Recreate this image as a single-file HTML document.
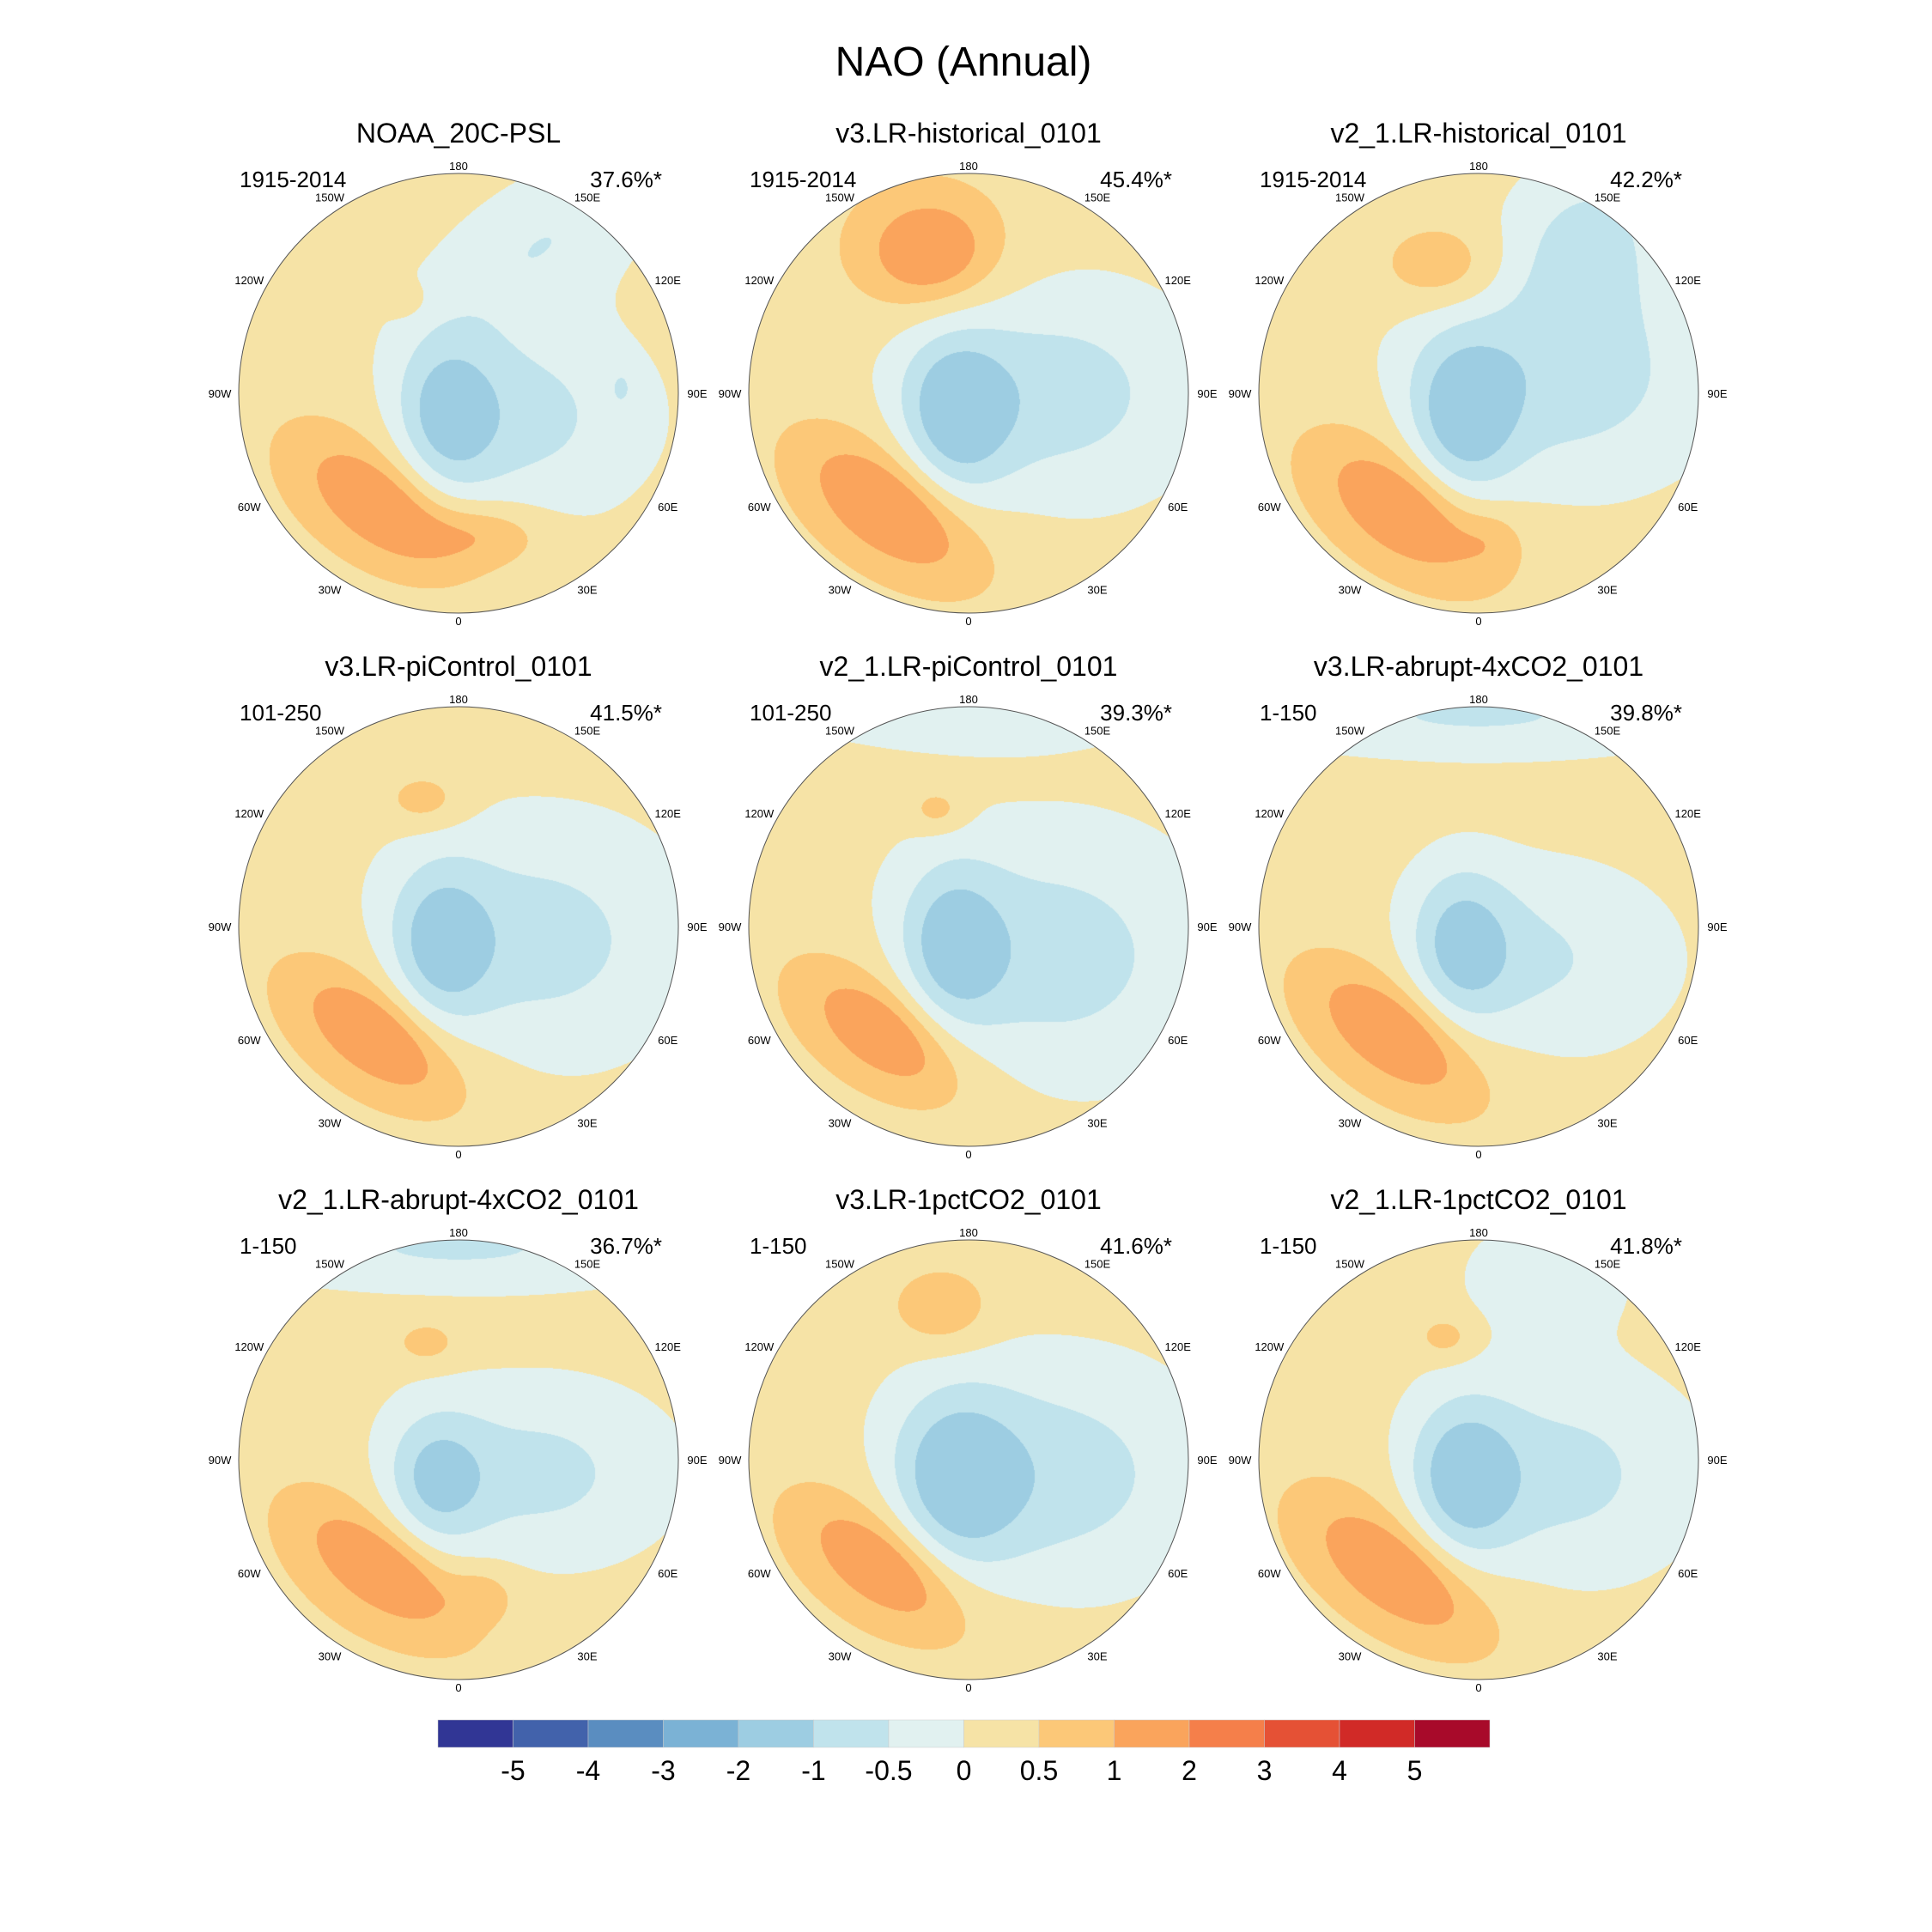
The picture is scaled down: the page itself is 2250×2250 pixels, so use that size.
<!DOCTYPE html>
<html><head><meta charset="utf-8"><style>
html,body{margin:0;padding:0;background:#fff;}
#wrap{position:relative;width:2250px;height:2250px;overflow:hidden;font-family:"Liberation Sans",sans-serif;}
canvas{position:absolute;}
svg{position:absolute;left:0;top:0;}
</style></head><body>
<div id="wrap">
<svg id="ov" width="2250" height="2250"></svg>
</div>
<script>
// ---- data ----
const panelTitles = ["NOAA_20C-PSL","v3.LR-historical_0101","v2_1.LR-historical_0101","v3.LR-piControl_0101","v2_1.LR-piControl_0101","v3.LR-abrupt-4xCO2_0101","v2_1.LR-abrupt-4xCO2_0101","v3.LR-1pctCO2_0101","v2_1.LR-1pctCO2_0101"];
const panelYears = ["1915-2014","1915-2014","1915-2014","101-250","101-250","1-150","1-150","1-150","1-150"];
const panelPct = ["37.6%*","45.4%*","42.2%*","41.5%*","39.3%*","39.8%*","36.7%*","41.6%*","41.8%*"];
const levels = [-5,-4,-3,-2,-1,-0.5,0,0.5,1,2,3,4,5];
const levelLabels = ["-5","-4","-3","-2","-1","-0.5","0","0.5","1","2","3","4","5"];
const levelColors = ["#313695","#4262ab","#5a8dc0","#7bb2d5","#9dcde2","#c0e3ec","#e1f1f0","#f6e3a6","#fcc878","#faa45c","#f57f4a","#e55135","#d12a27","#a80a2a"];
const lonLabels = ["0","30E","60E","90E","120E","150E","180","150W","120W","90W","60W","30W"];
const lonValues = [0,30,60,90,120,150,180,-150,-120,-90,-60,-30];
// field blobs per panel: [lon, lat, amplitude(hPa), spreadAlongTilt, spreadAcross, tiltDeg]
const bg = [0.25,0.25,0.25,0.25,0.25,0.25,0.25,0.25,0.25];
const blobs = [
 [[-25,80,-1.2,0.25,0.16,90],[70,66,-0.9,0.42,0.34,0],[-34,43,1.0,0.24,0.12,35],[-40,45,0.6,0.38,0.24,35],[10,41,0.7,0.2,0.1,0],[150,30,-0.7,0.4,0.2,150],[-150,52,0.5,0.06,0.05,0],[92,35,-0.45,0.03,0.05,0]],
 [[-30,80,-1.4,0.26,0.17,90],[90,62,-1.0,0.5,0.36,0],[-34,42,1.05,0.26,0.13,35],[-36,44,0.65,0.4,0.24,35],[-165,40,1.0,0.15,0.18,90],[-163,40,0.5,0.26,0.3,90]],
 [[-30,78,-1.4,0.26,0.17,90],[100,60,-1.0,0.5,0.36,0],[-32,42,1.0,0.25,0.13,35],[-35,44,0.6,0.4,0.24,35],[5,40,0.4,0.1,0.1,0],[-165,45,0.75,0.2,0.14,0],[145,28,-0.8,0.3,0.25,120]],
 [[-40,80,-1.25,0.25,0.16,90],[80,62,-0.95,0.5,0.4,0],[-36,43,1.05,0.25,0.12,35],[-38,44,0.6,0.4,0.24,35],[-165,45,0.6,0.13,0.09,0]],
 [[-35,80,-1.25,0.25,0.16,90],[70,60,-1.0,0.52,0.42,0],[-38,43,1.0,0.24,0.12,35],[-40,44,0.6,0.4,0.24,35],[-165,48,0.6,0.09,0.07,0],[180,22,-0.6,0.6,0.12,0]],
 [[-40,80,-1.2,0.25,0.16,90],[60,66,-0.8,0.45,0.32,0],[-38,43,1.05,0.25,0.12,35],[-38,44,0.6,0.4,0.24,35],[180,22,-0.8,0.8,0.14,0]],
 [[-45,78,-1.15,0.22,0.16,90],[80,62,-0.9,0.45,0.3,0],[-35,44,1.0,0.24,0.11,35],[-38,44,0.6,0.4,0.24,35],[10,43,0.5,0.1,0.08,0],[-165,48,0.55,0.1,0.07,0],[180,22,-0.8,0.8,0.14,0]],
 [[-30,80,-1.4,0.28,0.2,90],[80,60,-1.0,0.5,0.38,0],[-38,43,1.0,0.25,0.12,35],[-40,44,0.6,0.4,0.24,35],[-170,38,0.75,0.15,0.12,0]],
 [[-35,80,-1.45,0.25,0.17,90],[80,60,-0.9,0.45,0.35,0],[-36,42,1.05,0.26,0.12,35],[-38,44,0.6,0.42,0.24,35],[-165,46,0.6,0.09,0.07,0],[160,25,-0.5,0.3,0.2,0]]
];
// ---- layout ----
const colX = [534,1128,1722], rowY = [458,1079,1700], R = 256;
const T = Math.tan(35*Math.PI/180);
function proj(lon,lat){const r=Math.tan((90-lat)/2*Math.PI/180)/T;const a=lon*Math.PI/180;return [r*Math.sin(a), r*Math.cos(a)];}
function colorFor(v){let i=0;while(i<levels.length && v>=levels[i]) i++;return levelColors[i];}
function hexRgb(h){return [parseInt(h.substr(1,2),16),parseInt(h.substr(3,2),16),parseInt(h.substr(5,2),16)];}
const wrap=document.getElementById('wrap'), ov=document.getElementById('ov');
const NS="http://www.w3.org/2000/svg";
function txt(x,y,s,size,anchor,name){const t=document.createElementNS(NS,'text');t.setAttribute('x',x);t.setAttribute('y',y);t.setAttribute('font-size',size);t.setAttribute('text-anchor',anchor);t.setAttribute('font-family','Liberation Sans, sans-serif');t.textContent=s;


ov.appendChild(t);return t;}
txt(1122,88,"NAO (Annual)",48,"middle","main-title");
panelTitles.forEach((title,p)=>{
 const cx=colX[p%3], cy=rowY[Math.floor(p/3)];
 const cv=document.createElement('canvas');cv.width=2*R;cv.height=2*R;cv.style.left=(cx-R)+'px';cv.style.top=(cy-R)+'px';
 
 
 wrap.insertBefore(cv,ov);
 const ctx=cv.getContext('2d');const img=ctx.createImageData(2*R,2*R);
 const bs=blobs[p].map(b=>{const c=proj(b[0],b[1]);const t=b[5]*Math.PI/180;return [c[0],c[1],b[2],b[3],b[4],Math.cos(t),Math.sin(t)];});
 for(let j=0;j<2*R;j++)for(let i=0;i<2*R;i++){
  const nx=(i+0.5-R)/R, ny=(j+0.5-R)/R; if(nx*nx+ny*ny>1) continue;
  let v=bg[p];
  for(const b of bs){const dx=nx-b[0],dy=ny-b[1];const u=dx*b[5]+dy*b[6],w=-dx*b[6]+dy*b[5];v+=b[2]*Math.exp(-0.5*(u*u/(b[3]*b[3])+w*w/(b[4]*b[4])));}
  const c=hexRgb(colorFor(v));const k=(j*2*R+i)*4;img.data[k]=c[0];img.data[k+1]=c[1];img.data[k+2]=c[2];img.data[k+3]=255;}
 ctx.putImageData(img,0,0);
 const circ=document.createElementNS(NS,'circle');circ.setAttribute('cx',cx);circ.setAttribute('cy',cy);circ.setAttribute('r',R);circ.setAttribute('fill','none');circ.setAttribute('stroke','#555');circ.setAttribute('stroke-width','1');
 
 
 ov.appendChild(circ);
 txt(cx,cy-292,title,32,"middle","panel-title");
 txt(cx-255,cy-240,panelYears[p],26,"start","year-range");
 txt(cx+237,cy-240,panelPct[p],26,"end","variance-explained");
 lonValues.forEach((lv,q)=>{const a=lv*Math.PI/180;const s=Math.sin(a),c=Math.cos(a);
  let x,y;
  if(lv===0||lv===180){x=cx;y=cy+c*(R+9)+5;}
  else{x=cx+R*s+22*Math.sign(s);y=cy+R*c*1.03+5;}
  txt(x,y,lonLabels[q],13,"middle","lon-label");});
});
// colorbar
const cbL=510, cbW=1225/levelColors.length, cbT=2003, cbH=32;
levelColors.forEach((c,i)=>{const r=document.createElementNS(NS,'rect');r.setAttribute('x',cbL+i*cbW);r.setAttribute('y',cbT);r.setAttribute('width',cbW);r.setAttribute('height',cbH);r.setAttribute('fill',c);r.setAttribute('stroke','#ccc');r.setAttribute('stroke-width','0.5');
 
 
 ov.appendChild(r);});
levelLabels.forEach((s,i)=>{txt(cbL+(i+1)*cbW,2073,s,32,"middle","colorbar-label");});
</script>
</body></html>
